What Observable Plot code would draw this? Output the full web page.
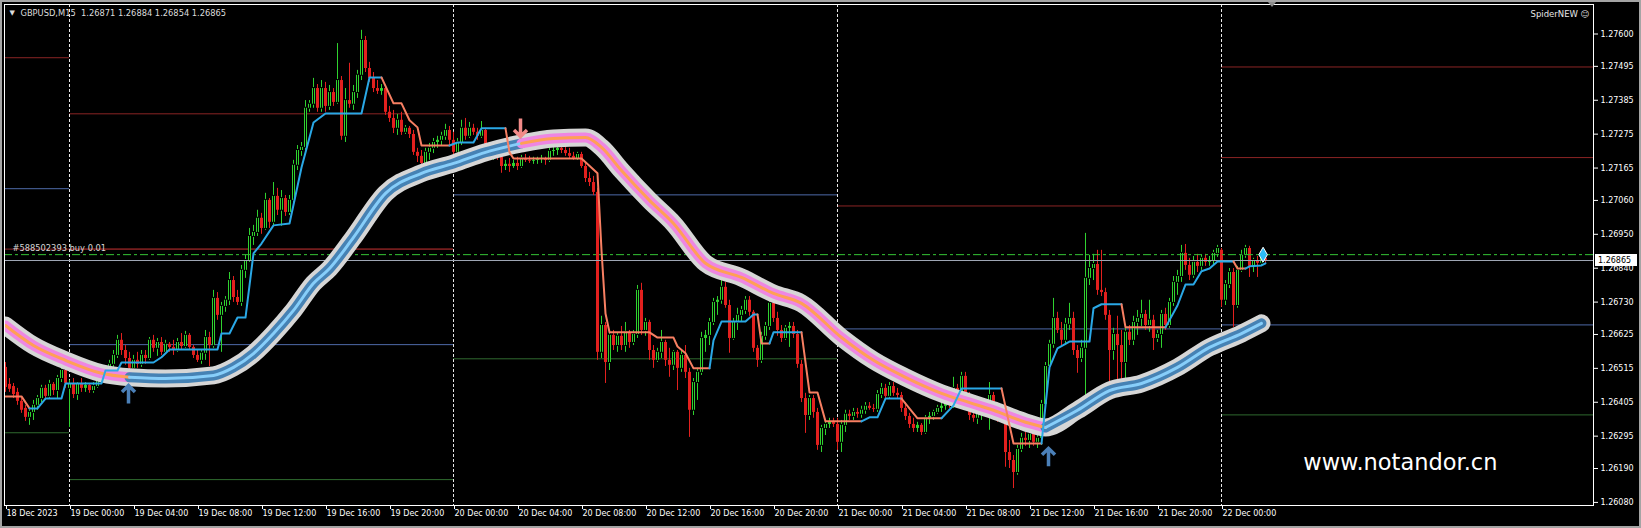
<!DOCTYPE html>
<html><head><meta charset="utf-8">
<script src="https://cdn.jsdelivr.net/npm/d3@7"></script>
<script src="https://cdn.jsdelivr.net/npm/@observablehq/plot@0.6"></script>
<style>
html,body{margin:0;padding:0;background:#000;}
#chart{width:1641px;height:528px;overflow:hidden;}
#chart svg{display:block;}
</style></head>
<body><div id="chart"></div>
<script>
// ---- data (prices in points: price = 1.26 + pts / 100000), one M15 bar per index, bar 0 = 18 Dec 20:00
const symbol = "GBPUSD,M15";
const openPts = [518,463,456,437,408,385,356,372,395,417,
450,424,463,443,482,508,450,463,430,463,
450,460,443,456,476,486,502,528,557,606,
573,547,515,541,528,557,547,606,580,599,
567,593,583,573,599,586,622,583,557,541,
564,615,589,742,687,716,736,800,745,729,
833,865,943,956,1002,969,1060,989,1073,1028,
1066,1021,1060,1174,1222,1232,1359,1372,1423,1359,
1423,1365,1410,1378,1449,1268,1384,1372,1410,1466,
1579,1488,1456,1423,1414,1423,1346,1326,1294,1320,
1281,1294,1274,1216,1203,1180,1216,1229,1248,1255,
1268,1287,1255,1216,1248,1294,1268,1294,1281,1268,
1287,1216,1203,1212,1200,1170,1177,1170,1180,1170,
1196,1190,1187,1190,1193,1196,1190,1219,1222,1229,
1222,1212,1203,1196,1209,1170,1131,1118,1086,567,
654,534,622,589,619,589,632,599,625,768,
638,664,573,541,567,599,541,525,567,515,
557,502,379,469,502,612,622,664,729,736,
778,719,612,664,687,703,736,697,580,541,
619,651,726,677,638,612,645,651,625,528,
417,362,417,372,265,320,333,343,333,275,
330,366,359,372,366,379,392,385,382,430,
450,424,456,434,427,385,359,333,320,330,
307,353,359,372,385,392,401,395,450,437,
489,424,362,353,366,379,372,427,385,353,
366,242,216,177,252,288,281,301,275,288,
398,521,593,677,638,606,658,677,573,547,
580,807,839,852,768,761,687,573,625,589,
534,632,606,664,677,690,654,671,612,625,
690,654,729,794,813,888,849,817,859,846,
872,859,865,888,898,736,787,826,719,833,
882,904,846,865,856,871];
const highPts = [534,482,466,450,417,395,379,411,427,460,
460,476,469,492,531,518,476,482,469,482,
469,466,469,489,502,515,541,573,622,628,
589,567,557,567,573,573,615,622,612,615,
606,599,606,612,628,635,628,589,573,573,
638,632,768,761,729,748,826,813,768,849,
882,969,979,1028,1018,1083,1066,1118,1099,1092,
1076,1076,1190,1238,1248,1384,1384,1456,1436,1449,
1443,1433,1423,1569,1462,1423,1505,1433,1482,1612,
1592,1508,1475,1449,1436,1433,1365,1352,1339,1346,
1303,1300,1287,1229,1222,1229,1245,1261,1268,1281,
1307,1300,1281,1261,1320,1326,1313,1307,1294,1316,
1294,1229,1222,1222,1216,1190,1196,1190,1200,1206,
1209,1203,1200,1200,1206,1200,1229,1235,1238,1242,
1238,1229,1216,1216,1216,1183,1151,1138,1099,684,
664,638,638,628,651,664,638,638,784,791,
677,671,589,580,638,606,580,573,573,573,
589,515,482,515,632,638,677,742,748,800,
794,736,677,710,716,748,748,703,589,632,
664,742,736,697,654,654,664,664,638,541,
434,427,427,385,330,346,353,353,353,346,
379,379,385,385,392,404,404,398,443,466,
463,469,469,450,437,404,369,353,340,336,
362,372,379,395,401,411,417,486,463,502,
502,437,385,379,395,404,469,437,404,379,
379,281,232,265,304,307,314,314,297,411,
534,606,742,697,664,677,726,697,589,606,
953,882,885,898,898,775,703,645,684,638,
645,654,684,703,736,703,736,687,638,703,
710,742,813,833,914,917,872,878,885,882,
885,878,898,914,904,800,839,839,846,898,
914,911,872,878,882,884];
const lowPts = [437,437,417,395,369,343,330,346,379,404,
411,414,427,417,469,450,323,417,411,437,
437,434,434,450,463,476,492,515,547,557,
525,502,502,515,518,528,541,567,554,557,
560,567,557,567,573,580,573,547,534,528,
541,521,580,671,567,697,719,729,719,716,
807,859,914,943,950,963,969,976,1011,976,
1008,1011,1044,1157,1203,1222,1346,1359,1346,1346,
1346,1352,1365,1372,1255,1248,1359,1352,1391,1449,
1475,1443,1410,1404,1401,1336,1313,1277,1271,1271,
1274,1261,1206,1183,1164,1170,1190,1212,1229,1238,
1255,1238,1203,1209,1238,1255,1261,1271,1255,1261,
1206,1190,1190,1190,1148,1157,1151,1164,1157,1164,
1183,1180,1177,1177,1180,1174,1183,1203,1206,1212,
1203,1196,1190,1190,1164,1118,1105,1076,541,547,
466,508,573,567,573,567,580,589,612,622,
619,541,515,534,547,521,486,508,443,502,
482,291,362,411,492,567,589,654,687,723,
710,564,606,638,664,690,684,567,518,531,
606,638,664,619,599,606,583,612,515,404,
304,346,353,249,242,297,320,323,249,242,
307,346,346,353,353,366,379,372,372,417,
411,417,424,417,372,346,320,307,307,297,
301,333,346,366,372,379,385,385,424,430,
411,346,340,333,346,359,314,372,340,340,
194,190,125,168,242,262,255,262,255,265,
385,508,580,628,589,589,638,557,499,534,
427,784,800,752,748,671,453,541,476,466,
460,589,589,622,651,638,632,573,599,580,
638,645,716,752,794,833,800,807,826,833,
846,846,846,875,713,719,774,648,710,826,
872,810,826,810,849,854];
const closePts = [453,447,430,408,379,356,372,395,417,450,
424,463,443,482,508,466,463,430,463,450,
460,443,456,476,486,502,528,557,606,573,
547,515,541,528,557,547,606,580,599,567,
593,583,573,599,586,622,583,557,541,564,
615,589,742,687,716,736,800,745,729,833,
865,943,956,1002,969,1060,989,1073,1028,1066,
1021,1060,1174,1222,1232,1359,1372,1423,1359,1423,
1365,1410,1378,1449,1268,1384,1372,1410,1466,1579,
1488,1456,1423,1414,1423,1346,1326,1294,1320,1281,
1294,1274,1216,1203,1180,1216,1229,1248,1255,1268,
1287,1255,1216,1248,1294,1268,1294,1281,1268,1287,
1216,1203,1212,1200,1170,1177,1170,1180,1170,1196,
1190,1187,1190,1193,1196,1190,1219,1222,1229,1222,
1212,1203,1196,1209,1170,1131,1118,1086,567,654,
534,622,589,619,589,632,599,625,768,638,
664,573,541,567,599,541,525,567,515,557,
502,379,469,502,612,622,664,729,736,778,
719,612,664,687,703,736,697,580,541,619,
651,726,677,638,612,645,651,625,528,417,
362,417,372,265,320,333,343,333,275,330,
366,359,372,366,379,392,385,382,430,450,
424,456,434,427,385,359,333,320,330,307,
353,359,372,385,392,401,395,450,437,489,
424,362,353,366,379,372,427,385,353,366,
242,216,177,252,288,281,301,275,288,398,
521,593,677,638,606,658,677,573,547,580,
807,839,852,768,761,687,573,625,589,534,
632,606,664,677,690,654,671,612,625,690,
654,729,794,813,888,849,817,859,846,872,
859,865,888,904,736,787,826,719,833,882,
904,846,865,856,872,865];

// smooth "Spider" band (sampled centre values) and its trend switches
const bandBars = [0,7,15,24,31,40,52,57,62,67,72,77,81,87,95,104,112,120,129,137,145,149,154,161,167,175,184,192,199,209,217,225,234,241,247,255,260,268,276,284,293,301,309,314];
const bandPts = [654,589,541,499,486,482,492,518,563,628,703,791,839,940,1083,1148,1180,1216,1245,1261,1264,1232,1157,1060,985,856,810,758,726,615,541,486,434,404,379,340,323,379,443,466,518,583,628,661];
const bandSwitchBars = [31, 129, 260];
const bandTrend = ["D", "U", "D", "U"];

// stepped trailing line
const trailBar = [0,4,6,8,10,14,15,24,25,28,29,37,39,41,53,54,56,58,60,62,64,67,71,74,77,80,89,91,94,97,99,101,103,104,111,113,117,119,125,126,127,144,148,149,150,151,161,163,167,168,170,172,176,177,179,185,187,188,189,191,192,199,201,203,205,214,216,218,220,224,228,234,237,239,249,252,259,261,263,266,271,272,274,279,280,290,293,295,297,299,301,303,307,308,310,311,314,315];
const trailPts = [424,424,385,385,417,417,466,466,508,508,534,534,551,576,576,628,628,680,680,888,920,979,985,1167,1313,1342,1342,1459,1459,1375,1375,1320,1297,1238,1238,1248,1248,1294,1294,1216,1196,1196,1148,898,693,632,632,615,615,586,564,515,515,606,667,667,690,690,596,596,632,632,437,437,343,343,356,356,417,417,353,353,395,450,450,271,271,518,580,602,602,710,723,723,648,648,719,787,787,830,839,862,862,839,839,846,849,856];
const trailDir = ["D","D","D","U","U","U","U","U","U","U",
"U","U","U","U","U","U","U","U","U","U",
"U","U","U","U","U","U","U","U","U","D",
"D","D","D","D","D","U","U","U","U","D",
"D","D","D","D","D","D","D","D","D","D",
"D","D","D","U","U","U","U","U","D","D",
"U","U","D","D","D","D","U","U","U","U",
"D","D","U","U","U","D","D","U","U","U",
"U","U","U","U","D","D","U","U","U","U",
"U","U","U","D","D","U","U","U"];

// signal arrows (tail position)
const sigBar = [30.75, 128.75, 260.75];
const sigPrice = [1.26401, 1.27326, 1.26197];
const sigDir = ["U", "D", "U"];

// daily level lines
const dayStartBars = [16, 112, 208, 304];
const levelFrom = [-0.25,-0.25,-0.25,-0.25, 16,16,16,16, 112,112, 208,208, 304,304,304,304];
const levelTo   = [16,16,112,16, 112,112,112,112, 208,208, 304,304, 397,397,397,397];
const levelPrice = [1.27523,1.27098,1.26902,1.26306, 1.27341,1.26902,1.26592,1.26154, 1.27078,1.26546, 1.27042,1.26643, 1.27493,1.27199,1.26656,1.26364];
const levelKind = ["R","B","R","G", "R","R","B","G", "B","G", "R","B", "R","R","B","G"];

const orderPrice = 1.26884;
const orderLabel = "#588502393 buy 0.01";
const orderMarkerBar = [314.4];
const chartShiftBar = 316.75;

const xTickBars = [0,16,32,48,64,80,96,112,128,144,160,176,192,208,224,240,256,272,288,304];
const xTickLabels = ["18 Dec 2023","19 Dec 00:00","19 Dec 04:00","19 Dec 08:00","19 Dec 12:00","19 Dec 16:00","19 Dec 20:00","20 Dec 00:00","20 Dec 04:00","20 Dec 08:00","20 Dec 12:00","20 Dec 16:00","20 Dec 20:00","21 Dec 00:00","21 Dec 04:00","21 Dec 08:00","21 Dec 12:00","21 Dec 16:00","21 Dec 20:00","22 Dec 00:00"];
const yTicks = [1.27600,1.27495,1.27385,1.27275,1.27165,1.27060,1.26950,1.26840,1.26730,1.26625,1.26515,1.26405,1.26295,1.26190,1.26080];

// ---- build
const P = pts => 1.26 + pts / 100000;
const candles = closePts.map((c, i) => ({i, o: P(openPts[i]), h: P(highPts[i]), l: P(lowPts[i]), c: P(c), up: c >= openPts[i]}));
const last = candles[candles.length - 1];

const BULL = "#2fd22f", BEAR = "#e3201e";
const levelColor = {R: "#8a2424", B: "#4e6aa8", G: "#2f6a2f"};
const levels = levelPrice.map((p, k) => ({from: levelFrom[k], to: levelTo[k], price: p, color: levelColor[levelKind[k]]}));

const bandRows = [];
bandBars.forEach((b, k) => {
  const s = bandSwitchBars.filter(t => b > t).length;
  bandRows.push({bar: b, price: P(bandPts[k]), seg: s, dir: bandTrend[s]});
  if (bandSwitchBars.includes(b)) bandRows.push({bar: b, price: P(bandPts[k]), seg: s + 1, dir: bandTrend[s + 1]});
});
const bandAll = bandRows.filter((d, k) => k === 0 || !(d.bar === bandRows[k - 1].bar));

const trailRows = [];
let run = -1, prev = null;
for (let k = 1; k < trailBar.length; k++) {
  const dir = trailDir[k];
  if (dir !== prev) { run++; prev = dir; trailRows.push({bar: trailBar[k - 1], price: P(trailPts[k - 1]), run, dir}); }
  trailRows.push({bar: trailBar[k], price: P(trailPts[k]), run, dir});
}

const signals = sigBar.map((b, k) => ({bar: b, price: sigPrice[k], dir: sigDir[k]}));
const arrowShape = {draw(ctx, l) { const w = 6.5; ctx.moveTo(0, 0); ctx.lineTo(0, -l + 1.5); ctx.moveTo(-w, -l + w); ctx.lineTo(0, -l); ctx.lineTo(w, -l + w); }};

const tickLabel = new Map(xTickBars.map((b, k) => [b, xTickLabels[k]]));
const header = `${symbol}\u00a0\u00a0${[last.o, last.h, last.l, last.c].map(v => v.toFixed(5)).join(" ")}`;

const W = 1641, H = 528, MR = 48;
const plot = Plot.plot({
  width: W, height: H,
  marginLeft: 4, marginRight: MR, marginTop: 4, marginBottom: 23,
  style: {background: "#000", color: "#fff", fontFamily: "'DejaVu Sans', sans-serif", fontSize: "8px", overflow: "visible"},
  x: {type: "linear", domain: [-0.25, 397]},
  y: {type: "linear", domain: [1.2606997, 1.2769573]},
  color: {type: "identity"},
  marks: [
    Plot.ruleY(levels, {y: "price", x1: "from", x2: "to", stroke: "color", strokeWidth: 1}),
    Plot.ruleX(dayStartBars, {x: d => d, stroke: "#e8e8e8", strokeDasharray: "3,2", strokeWidth: 1}),
    // candles
    Plot.ruleX(candles, {x: "i", y1: "l", y2: "h", stroke: d => d.up ? BULL : BEAR, strokeWidth: 1}),
    Plot.ruleX(candles, {x: "i", y1: "o", y2: "c", stroke: d => d.up ? BULL : BEAR, strokeWidth: 3}),
    Plot.ruleX(candles.filter(d => d.up && (d.c - d.o) > 0.0001), {x: "i", y1: "o", y2: "c", stroke: "#000", strokeWidth: 1, insetTop: 1, insetBottom: 1}),
    // order + bid lines
    Plot.ruleY([orderPrice], {y: d => d, stroke: "#35c435", strokeDasharray: "8,3,3,3", strokeWidth: 1}),
    Plot.ruleY([last.c], {y: d => d, stroke: "#9ea6b4", strokeWidth: 1}),
    // band
    Plot.line(bandAll, {x: "bar", y: "price", stroke: "#d6d6d6", strokeWidth: 18, curve: "monotone-x", strokeLinecap: "round", clip: true}),
    Plot.line(bandRows, {x: "bar", y: "price", z: "seg", stroke: d => d.dir === "U" ? "#4682b4" : "#ee86e2", strokeWidth: 10, curve: "monotone-x", clip: true}),
    Plot.line(bandRows, {x: "bar", y: "price", z: "seg", stroke: d => d.dir === "U" ? "#87cefa" : "#ffa055", strokeWidth: 3, curve: "monotone-x", clip: true}),
    // trailing line
    Plot.line(trailRows, {x: "bar", y: "price", z: "run", stroke: d => d.dir === "U" ? "#2aa8e6" : "#f77f62", strokeWidth: 2, curve: "linear", clip: true}),
    // signals
    Plot.vector(signals, {x: "bar", y: "price", length: 18, rotate: d => d.dir === "U" ? 0 : 180, anchor: "start", shape: arrowShape, stroke: d => d.dir === "U" ? "#4b80b8" : "#f28a88", strokeWidth: 3.5, strokeLinejoin: "miter", strokeLinecap: "butt"}),
    Plot.dot(orderMarkerBar, {x: d => d, y: () => orderPrice, symbol: "diamond", r: 4.5, fill: "#2bbcf5", stroke: "#fff", strokeWidth: 1}),
    // texts
    Plot.text([header], {text: d => d, frameAnchor: "top-left", dx: 16, dy: 8.5, textAnchor: "start", lineAnchor: "middle", fill: "#dcdcdc", fontSize: 8.3}),
    Plot.text(["\u25BC"], {text: d => d, frameAnchor: "top-left", dx: 5, dy: 8.5, textAnchor: "start", lineAnchor: "middle", fill: "#dcdcdc", fontSize: 7}),
    Plot.text(["SpiderNEW \u263A"], {text: d => d, frameAnchor: "top-right", dx: -4, dy: 9.5, textAnchor: "end", lineAnchor: "middle", fill: "#e6e6e6", fontSize: 8.5}),
    Plot.text([orderPrice], {y: d => d, text: () => orderLabel, frameAnchor: "left", dx: 8, dy: -6, textAnchor: "start", lineAnchor: "middle", fill: "#d6d6d6", fontSize: 8.3}),
    Plot.text(["www.notandor.cn"], {text: d => d, frameAnchor: "bottom-right", dx: -96, dy: -43, textAnchor: "end", lineAnchor: "middle", fill: "#ffffff", fontSize: 22.5}),
    // axes
    Plot.axisX({ticks: xTickBars, tickFormat: d => tickLabel.get(d), anchor: "bottom", tickSize: 4, tickPadding: 1, textAnchor: "start", dx: 1, label: null, fontSize: 8}),
    Plot.axisY({ticks: yTicks, tickFormat: d => d.toFixed(5), anchor: "right", tickSize: 4, tickPadding: 3, label: null, fontSize: 8}),
    Plot.frame({stroke: "#fff"})
  ]
});

// price tag on the right scale, chart-shift marker, outer window border
const svg = d3.select(plot);
const yy = plot.scale("y").apply(last.c);
svg.append("rect").attr("x", W - MR + 2).attr("y", yy - 6).attr("width", 42).attr("height", 12).attr("fill", "#fff");
svg.append("text").attr("x", W - MR + 5).attr("y", yy).attr("dy", "0.35em").attr("text-anchor", "start")
  .attr("fill", "#000").attr("font-size", 8).text(last.c.toFixed(5));
const xs = plot.scale("x").apply(chartShiftBar);
svg.append("path").attr("d", `M${xs - 4},2L${xs + 4},2L${xs},7Z`).attr("fill", "#8c8c8c");
svg.append("rect").attr("x", 1).attr("y", 1).attr("width", W - 2).attr("height", H - 2).attr("fill", "none").attr("stroke", "#a4a4a4").attr("stroke-width", 2);

document.getElementById("chart").appendChild(plot);
</script>
</body></html>
